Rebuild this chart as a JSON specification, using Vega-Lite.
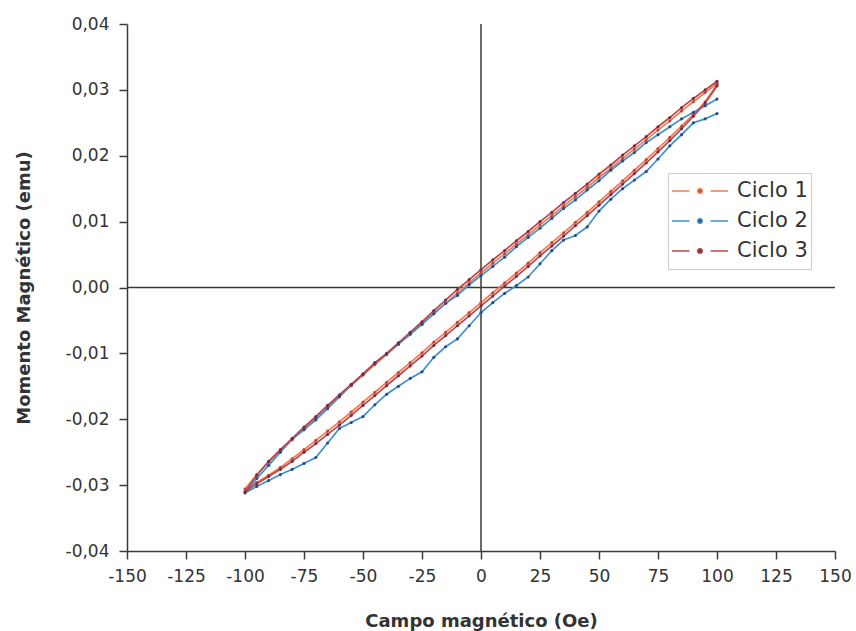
{
  "$schema": "https://vega.github.io/schema/vega-lite/v6.json",
  "width": 708,
  "height": 527,
  "autosize": "none",
  "padding": {"left": 127, "top": 24, "right": 21, "bottom": 80},
  "background": "white",
  "config": {
    "view": {"stroke": null},
    "font": "DejaVu Sans",
    "axis": {
      "grid": false,
      "domainColor": "#3a3a3a",
      "domainWidth": 1.5,
      "tickColor": "#3a3a3a",
      "tickWidth": 1.5,
      "labelFont": "DejaVu Sans",
      "labelFontSize": 17,
      "labelColor": "#333333",
      "titleFont": "DejaVu Sans",
      "titleFontSize": 18,
      "titleFontWeight": "bold",
      "titleColor": "#333333"
    }
  },
  "datasets": {
    "loops": [
      {"c":"Ciclo 1","s":0,"x":100,"y":0.0310},{"c":"Ciclo 1","s":1,"x":95,"y":0.0296},{"c":"Ciclo 1","s":2,"x":90,"y":0.0282},{"c":"Ciclo 1","s":3,"x":85,"y":0.0268},{"c":"Ciclo 1","s":4,"x":80,"y":0.0253},{"c":"Ciclo 1","s":5,"x":75,"y":0.0239},{"c":"Ciclo 1","s":6,"x":70,"y":0.0224},{"c":"Ciclo 1","s":7,"x":65,"y":0.0210},{"c":"Ciclo 1","s":8,"x":60,"y":0.0196},{"c":"Ciclo 1","s":9,"x":55,"y":0.0181},{"c":"Ciclo 1","s":10,"x":50,"y":0.0167},{"c":"Ciclo 1","s":11,"x":45,"y":0.0152},{"c":"Ciclo 1","s":12,"x":40,"y":0.0138},{"c":"Ciclo 1","s":13,"x":35,"y":0.0124},{"c":"Ciclo 1","s":14,"x":30,"y":0.0109},{"c":"Ciclo 1","s":15,"x":25,"y":0.0095},{"c":"Ciclo 1","s":16,"x":20,"y":0.0080},{"c":"Ciclo 1","s":17,"x":15,"y":0.0066},{"c":"Ciclo 1","s":18,"x":10,"y":0.0051},{"c":"Ciclo 1","s":19,"x":5,"y":0.0037},{"c":"Ciclo 1","s":20,"x":0,"y":0.0022},{"c":"Ciclo 1","s":21,"x":-5,"y":0.0007},{"c":"Ciclo 1","s":22,"x":-10,"y":-0.0008},{"c":"Ciclo 1","s":23,"x":-15,"y":-0.0024},{"c":"Ciclo 1","s":24,"x":-20,"y":-0.0039},{"c":"Ciclo 1","s":25,"x":-25,"y":-0.0055},{"c":"Ciclo 1","s":26,"x":-30,"y":-0.0070},{"c":"Ciclo 1","s":27,"x":-35,"y":-0.0086},{"c":"Ciclo 1","s":28,"x":-40,"y":-0.0102},{"c":"Ciclo 1","s":29,"x":-45,"y":-0.0117},{"c":"Ciclo 1","s":30,"x":-50,"y":-0.0133},{"c":"Ciclo 1","s":31,"x":-55,"y":-0.0149},{"c":"Ciclo 1","s":32,"x":-60,"y":-0.0165},{"c":"Ciclo 1","s":33,"x":-65,"y":-0.0181},{"c":"Ciclo 1","s":34,"x":-70,"y":-0.0198},{"c":"Ciclo 1","s":35,"x":-75,"y":-0.0214},{"c":"Ciclo 1","s":36,"x":-80,"y":-0.0231},{"c":"Ciclo 1","s":37,"x":-85,"y":-0.0248},{"c":"Ciclo 1","s":38,"x":-90,"y":-0.0265},{"c":"Ciclo 1","s":39,"x":-95,"y":-0.0284},{"c":"Ciclo 1","s":40,"x":-100,"y":-0.0306},
      {"c":"Ciclo 1","s":41,"x":-95,"y":-0.0296},{"c":"Ciclo 1","s":42,"x":-90,"y":-0.0285},{"c":"Ciclo 1","s":43,"x":-85,"y":-0.0273},{"c":"Ciclo 1","s":44,"x":-80,"y":-0.0260},{"c":"Ciclo 1","s":45,"x":-75,"y":-0.0246},{"c":"Ciclo 1","s":46,"x":-70,"y":-0.0232},{"c":"Ciclo 1","s":47,"x":-65,"y":-0.0218},{"c":"Ciclo 1","s":48,"x":-60,"y":-0.0204},{"c":"Ciclo 1","s":49,"x":-55,"y":-0.0189},{"c":"Ciclo 1","s":50,"x":-50,"y":-0.0174},{"c":"Ciclo 1","s":51,"x":-45,"y":-0.0159},{"c":"Ciclo 1","s":52,"x":-40,"y":-0.0144},{"c":"Ciclo 1","s":53,"x":-35,"y":-0.0129},{"c":"Ciclo 1","s":54,"x":-30,"y":-0.0114},{"c":"Ciclo 1","s":55,"x":-25,"y":-0.0099},{"c":"Ciclo 1","s":56,"x":-20,"y":-0.0083},{"c":"Ciclo 1","s":57,"x":-15,"y":-0.0068},{"c":"Ciclo 1","s":58,"x":-10,"y":-0.0053},{"c":"Ciclo 1","s":59,"x":-5,"y":-0.0038},{"c":"Ciclo 1","s":60,"x":0,"y":-0.0023},{"c":"Ciclo 1","s":61,"x":5,"y":-0.0008},{"c":"Ciclo 1","s":62,"x":10,"y":0.0007},{"c":"Ciclo 1","s":63,"x":15,"y":0.0022},{"c":"Ciclo 1","s":64,"x":20,"y":0.0037},{"c":"Ciclo 1","s":65,"x":25,"y":0.0053},{"c":"Ciclo 1","s":66,"x":30,"y":0.0068},{"c":"Ciclo 1","s":67,"x":35,"y":0.0083},{"c":"Ciclo 1","s":68,"x":40,"y":0.0099},{"c":"Ciclo 1","s":69,"x":45,"y":0.0114},{"c":"Ciclo 1","s":70,"x":50,"y":0.0130},{"c":"Ciclo 1","s":71,"x":55,"y":0.0146},{"c":"Ciclo 1","s":72,"x":60,"y":0.0162},{"c":"Ciclo 1","s":73,"x":65,"y":0.0178},{"c":"Ciclo 1","s":74,"x":70,"y":0.0194},{"c":"Ciclo 1","s":75,"x":75,"y":0.0211},{"c":"Ciclo 1","s":76,"x":80,"y":0.0228},{"c":"Ciclo 1","s":77,"x":85,"y":0.0245},{"c":"Ciclo 1","s":78,"x":90,"y":0.0263},{"c":"Ciclo 1","s":79,"x":95,"y":0.0282},{"c":"Ciclo 1","s":80,"x":100,"y":0.0308},
      {"c":"Ciclo 2","s":0,"x":100,"y":0.0286},{"c":"Ciclo 2","s":1,"x":95,"y":0.0276},{"c":"Ciclo 2","s":2,"x":90,"y":0.0266},{"c":"Ciclo 2","s":3,"x":85,"y":0.0256},{"c":"Ciclo 2","s":4,"x":80,"y":0.0244},{"c":"Ciclo 2","s":5,"x":75,"y":0.0232},{"c":"Ciclo 2","s":6,"x":70,"y":0.0220},{"c":"Ciclo 2","s":7,"x":65,"y":0.0205},{"c":"Ciclo 2","s":8,"x":60,"y":0.0192},{"c":"Ciclo 2","s":9,"x":55,"y":0.0178},{"c":"Ciclo 2","s":10,"x":50,"y":0.0162},{"c":"Ciclo 2","s":11,"x":45,"y":0.0148},{"c":"Ciclo 2","s":12,"x":40,"y":0.0133},{"c":"Ciclo 2","s":13,"x":35,"y":0.0120},{"c":"Ciclo 2","s":14,"x":30,"y":0.0105},{"c":"Ciclo 2","s":15,"x":25,"y":0.0090},{"c":"Ciclo 2","s":16,"x":20,"y":0.0076},{"c":"Ciclo 2","s":17,"x":15,"y":0.0062},{"c":"Ciclo 2","s":18,"x":10,"y":0.0046},{"c":"Ciclo 2","s":19,"x":5,"y":0.0032},{"c":"Ciclo 2","s":20,"x":0,"y":0.0018},{"c":"Ciclo 2","s":21,"x":-5,"y":0.0004},{"c":"Ciclo 2","s":22,"x":-10,"y":-0.0012},{"c":"Ciclo 2","s":23,"x":-15,"y":-0.0024},{"c":"Ciclo 2","s":24,"x":-20,"y":-0.0040},{"c":"Ciclo 2","s":25,"x":-25,"y":-0.0056},{"c":"Ciclo 2","s":26,"x":-30,"y":-0.0071},{"c":"Ciclo 2","s":27,"x":-35,"y":-0.0086},{"c":"Ciclo 2","s":28,"x":-40,"y":-0.0101},{"c":"Ciclo 2","s":29,"x":-45,"y":-0.0114},{"c":"Ciclo 2","s":30,"x":-50,"y":-0.0132},{"c":"Ciclo 2","s":31,"x":-55,"y":-0.0148},{"c":"Ciclo 2","s":32,"x":-60,"y":-0.0166},{"c":"Ciclo 2","s":33,"x":-65,"y":-0.0184},{"c":"Ciclo 2","s":34,"x":-70,"y":-0.0201},{"c":"Ciclo 2","s":35,"x":-75,"y":-0.0216},{"c":"Ciclo 2","s":36,"x":-80,"y":-0.0230},{"c":"Ciclo 2","s":37,"x":-85,"y":-0.0250},{"c":"Ciclo 2","s":38,"x":-90,"y":-0.0270},{"c":"Ciclo 2","s":39,"x":-95,"y":-0.0290},{"c":"Ciclo 2","s":40,"x":-100,"y":-0.0312},
      {"c":"Ciclo 2","s":41,"x":-95,"y":-0.0302},{"c":"Ciclo 2","s":42,"x":-90,"y":-0.0293},{"c":"Ciclo 2","s":43,"x":-85,"y":-0.0284},{"c":"Ciclo 2","s":44,"x":-80,"y":-0.0276},{"c":"Ciclo 2","s":45,"x":-75,"y":-0.0267},{"c":"Ciclo 2","s":46,"x":-70,"y":-0.0258},{"c":"Ciclo 2","s":47,"x":-65,"y":-0.0236},{"c":"Ciclo 2","s":48,"x":-60,"y":-0.0214},{"c":"Ciclo 2","s":49,"x":-55,"y":-0.0205},{"c":"Ciclo 2","s":50,"x":-50,"y":-0.0196},{"c":"Ciclo 2","s":51,"x":-45,"y":-0.0178},{"c":"Ciclo 2","s":52,"x":-40,"y":-0.0162},{"c":"Ciclo 2","s":53,"x":-35,"y":-0.0150},{"c":"Ciclo 2","s":54,"x":-30,"y":-0.0138},{"c":"Ciclo 2","s":55,"x":-25,"y":-0.0128},{"c":"Ciclo 2","s":56,"x":-20,"y":-0.0106},{"c":"Ciclo 2","s":57,"x":-15,"y":-0.0090},{"c":"Ciclo 2","s":58,"x":-10,"y":-0.0078},{"c":"Ciclo 2","s":59,"x":-5,"y":-0.0058},{"c":"Ciclo 2","s":60,"x":0,"y":-0.0038},{"c":"Ciclo 2","s":61,"x":5,"y":-0.0023},{"c":"Ciclo 2","s":62,"x":10,"y":-0.0009},{"c":"Ciclo 2","s":63,"x":15,"y":0.0003},{"c":"Ciclo 2","s":64,"x":20,"y":0.0016},{"c":"Ciclo 2","s":65,"x":25,"y":0.0036},{"c":"Ciclo 2","s":66,"x":30,"y":0.0056},{"c":"Ciclo 2","s":67,"x":35,"y":0.0072},{"c":"Ciclo 2","s":68,"x":40,"y":0.0079},{"c":"Ciclo 2","s":69,"x":45,"y":0.0092},{"c":"Ciclo 2","s":70,"x":50,"y":0.0116},{"c":"Ciclo 2","s":71,"x":55,"y":0.0134},{"c":"Ciclo 2","s":72,"x":60,"y":0.0150},{"c":"Ciclo 2","s":73,"x":65,"y":0.0163},{"c":"Ciclo 2","s":74,"x":70,"y":0.0176},{"c":"Ciclo 2","s":75,"x":75,"y":0.0195},{"c":"Ciclo 2","s":76,"x":80,"y":0.0215},{"c":"Ciclo 2","s":77,"x":85,"y":0.0232},{"c":"Ciclo 2","s":78,"x":90,"y":0.0250},{"c":"Ciclo 2","s":79,"x":95,"y":0.0256},{"c":"Ciclo 2","s":80,"x":100,"y":0.0264},
      {"c":"Ciclo 3","s":0,"x":100,"y":0.0313},{"c":"Ciclo 3","s":1,"x":95,"y":0.0300},{"c":"Ciclo 3","s":2,"x":90,"y":0.0287},{"c":"Ciclo 3","s":3,"x":85,"y":0.0273},{"c":"Ciclo 3","s":4,"x":80,"y":0.0258},{"c":"Ciclo 3","s":5,"x":75,"y":0.0244},{"c":"Ciclo 3","s":6,"x":70,"y":0.0229},{"c":"Ciclo 3","s":7,"x":65,"y":0.0215},{"c":"Ciclo 3","s":8,"x":60,"y":0.0201},{"c":"Ciclo 3","s":9,"x":55,"y":0.0186},{"c":"Ciclo 3","s":10,"x":50,"y":0.0172},{"c":"Ciclo 3","s":11,"x":45,"y":0.0157},{"c":"Ciclo 3","s":12,"x":40,"y":0.0143},{"c":"Ciclo 3","s":13,"x":35,"y":0.0129},{"c":"Ciclo 3","s":14,"x":30,"y":0.0114},{"c":"Ciclo 3","s":15,"x":25,"y":0.0100},{"c":"Ciclo 3","s":16,"x":20,"y":0.0085},{"c":"Ciclo 3","s":17,"x":15,"y":0.0071},{"c":"Ciclo 3","s":18,"x":10,"y":0.0056},{"c":"Ciclo 3","s":19,"x":5,"y":0.0042},{"c":"Ciclo 3","s":20,"x":0,"y":0.0027},{"c":"Ciclo 3","s":21,"x":-5,"y":0.0012},{"c":"Ciclo 3","s":22,"x":-10,"y":-0.0003},{"c":"Ciclo 3","s":23,"x":-15,"y":-0.0019},{"c":"Ciclo 3","s":24,"x":-20,"y":-0.0035},{"c":"Ciclo 3","s":25,"x":-25,"y":-0.0052},{"c":"Ciclo 3","s":26,"x":-30,"y":-0.0068},{"c":"Ciclo 3","s":27,"x":-35,"y":-0.0084},{"c":"Ciclo 3","s":28,"x":-40,"y":-0.0100},{"c":"Ciclo 3","s":29,"x":-45,"y":-0.0115},{"c":"Ciclo 3","s":30,"x":-50,"y":-0.0131},{"c":"Ciclo 3","s":31,"x":-55,"y":-0.0147},{"c":"Ciclo 3","s":32,"x":-60,"y":-0.0163},{"c":"Ciclo 3","s":33,"x":-65,"y":-0.0179},{"c":"Ciclo 3","s":34,"x":-70,"y":-0.0196},{"c":"Ciclo 3","s":35,"x":-75,"y":-0.0212},{"c":"Ciclo 3","s":36,"x":-80,"y":-0.0229},{"c":"Ciclo 3","s":37,"x":-85,"y":-0.0246},{"c":"Ciclo 3","s":38,"x":-90,"y":-0.0264},{"c":"Ciclo 3","s":39,"x":-95,"y":-0.0285},{"c":"Ciclo 3","s":40,"x":-100,"y":-0.0310},
      {"c":"Ciclo 3","s":41,"x":-95,"y":-0.0298},{"c":"Ciclo 3","s":42,"x":-90,"y":-0.0287},{"c":"Ciclo 3","s":43,"x":-85,"y":-0.0276},{"c":"Ciclo 3","s":44,"x":-80,"y":-0.0264},{"c":"Ciclo 3","s":45,"x":-75,"y":-0.0250},{"c":"Ciclo 3","s":46,"x":-70,"y":-0.0237},{"c":"Ciclo 3","s":47,"x":-65,"y":-0.0223},{"c":"Ciclo 3","s":48,"x":-60,"y":-0.0209},{"c":"Ciclo 3","s":49,"x":-55,"y":-0.0194},{"c":"Ciclo 3","s":50,"x":-50,"y":-0.0179},{"c":"Ciclo 3","s":51,"x":-45,"y":-0.0164},{"c":"Ciclo 3","s":52,"x":-40,"y":-0.0149},{"c":"Ciclo 3","s":53,"x":-35,"y":-0.0134},{"c":"Ciclo 3","s":54,"x":-30,"y":-0.0119},{"c":"Ciclo 3","s":55,"x":-25,"y":-0.0104},{"c":"Ciclo 3","s":56,"x":-20,"y":-0.0088},{"c":"Ciclo 3","s":57,"x":-15,"y":-0.0073},{"c":"Ciclo 3","s":58,"x":-10,"y":-0.0058},{"c":"Ciclo 3","s":59,"x":-5,"y":-0.0043},{"c":"Ciclo 3","s":60,"x":0,"y":-0.0028},{"c":"Ciclo 3","s":61,"x":5,"y":-0.0013},{"c":"Ciclo 3","s":62,"x":10,"y":0.0002},{"c":"Ciclo 3","s":63,"x":15,"y":0.0017},{"c":"Ciclo 3","s":64,"x":20,"y":0.0032},{"c":"Ciclo 3","s":65,"x":25,"y":0.0048},{"c":"Ciclo 3","s":66,"x":30,"y":0.0063},{"c":"Ciclo 3","s":67,"x":35,"y":0.0078},{"c":"Ciclo 3","s":68,"x":40,"y":0.0094},{"c":"Ciclo 3","s":69,"x":45,"y":0.0109},{"c":"Ciclo 3","s":70,"x":50,"y":0.0125},{"c":"Ciclo 3","s":71,"x":55,"y":0.0141},{"c":"Ciclo 3","s":72,"x":60,"y":0.0157},{"c":"Ciclo 3","s":73,"x":65,"y":0.0173},{"c":"Ciclo 3","s":74,"x":70,"y":0.0189},{"c":"Ciclo 3","s":75,"x":75,"y":0.0206},{"c":"Ciclo 3","s":76,"x":80,"y":0.0223},{"c":"Ciclo 3","s":77,"x":85,"y":0.0241},{"c":"Ciclo 3","s":78,"x":90,"y":0.0260},{"c":"Ciclo 3","s":79,"x":95,"y":0.0280},{"c":"Ciclo 3","s":80,"x":100,"y":0.0306}
    ],
    "zero": [{"v": 0}]
  },
  "layer": [
    {
      "data": {"name": "zero"},
      "mark": {"type": "rule", "color": "#3a3a2c", "strokeWidth": 1.5},
      "encoding": {"x": {"field": "v", "type": "quantitative"}}
    },
    {
      "data": {"name": "zero"},
      "mark": {"type": "rule", "color": "#3a3a2c", "strokeWidth": 1.5},
      "encoding": {"y": {"field": "v", "type": "quantitative"}}
    },
    {
      "data": {"name": "loops"},
      "mark": {"type": "line", "strokeWidth": 1.7},
      "encoding": {
        "x": {
          "field": "x", "type": "quantitative",
          "scale": {"domain": [-150, 150], "nice": false, "zero": false},
          "axis": {
            "title": "Campo magnético (Oe)",
            "values": [-150,-137.5,-125,-112.5,-100,-87.5,-75,-62.5,-50,-37.5,-25,-12.5,0,12.5,25,37.5,50,62.5,75,87.5,100,112.5,125,137.5,150],
            "labelExpr": "datum.value % 25 == 0 ? replace(format(datum.value, 'd'), '\u2212', '-') : ''",
            "tickSize": {"condition": {"test": "datum.value % 25 == 0", "value": 8}, "value": 4},
            "labelPadding": 9,
            "labelFlush": false,
            "labelOverlap": false,
            "titlePadding": 28
          }
        },
        "y": {
          "field": "y", "type": "quantitative",
          "scale": {"domain": [-0.04, 0.04], "nice": false, "zero": false},
          "axis": {
            "title": "Momento Magnético (emu)",
            "values": [-0.04,-0.035,-0.03,-0.025,-0.02,-0.015,-0.01,-0.005,0,0.005,0.01,0.015,0.02,0.025,0.03,0.035,0.04],
            "labelExpr": "abs(datum.value*100 - round(datum.value*100)) < 0.01 ? replace(replace(format(datum.value, '.2f'), '.', ','), '\u2212', '-') : ''",
            "tickSize": {"condition": {"test": "abs(datum.value*100 - round(datum.value*100)) < 0.01", "value": 8}, "value": 4},
            "labelPadding": 10,
            "labelFlush": false,
            "labelOverlap": false,
            "titlePadding": 32
          }
        },
        "color": {
          "field": "c", "type": "nominal",
          "scale": {"domain": ["Ciclo 1", "Ciclo 2", "Ciclo 3"], "range": ["#f27a52", "#3f8fcc", "#b8464a"]},
          "legend": {
            "title": null,
            "orient": "none",
            "legendX": 541,
            "legendY": 149,
            "symbolType": "M-1,0L-0.38,0M0.38,0L1,0M-0.08,0A0.08,0.08 0 1,0 0.08,0A0.08,0.08 0 1,0 -0.08,0",
            "symbolSize": 3136,
            "symbolStrokeWidth": 1.5,
            "symbolFillColor": "#555555",
            "clipHeight": 30,
            "rowPadding": 0,
            "labelFontSize": 21,
            "labelColor": "#333333",
            "labelOffset": 8,
            "strokeColor": "#cccccc",
            "fillColor": "white",
            "padding": 3
          }
        },
        "order": {"field": "s", "type": "quantitative"}
      }
    },
    {
      "data": {"name": "loops"},
      "mark": {"type": "point", "filled": true, "size": 10, "opacity": 1},
      "encoding": {
        "x": {"field": "x", "type": "quantitative"},
        "y": {"field": "y", "type": "quantitative"},
        "fill": {
          "field": "c", "type": "nominal",
          "scale": {"domain": ["Ciclo 1", "Ciclo 2", "Ciclo 3"], "range": ["#c4482e", "#244f8c", "#7a2a48"]},
          "legend": null
        }
      }
    }
  ]
}
